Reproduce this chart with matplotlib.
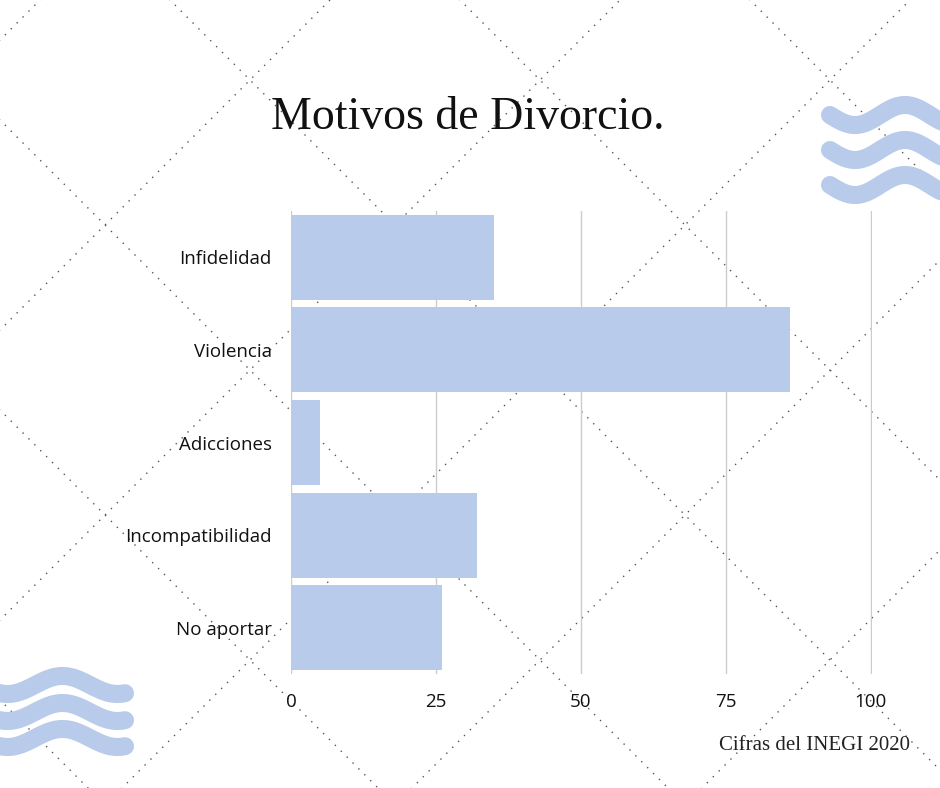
import numpy as np
import matplotlib
matplotlib.use("Agg")
import matplotlib.pyplot as plt

categories = ["Infidelidad", "Violencia", "Adicciones", "Incompatibilidad", "No aportar"]
values = [35, 86, 5, 32, 26]
ticks = [0, 25, 50, 75, 100]
color = "#b9cbeb"

fig = plt.figure(figsize=(9.4, 7.88), dpi=100)
bg = fig.add_axes([0, 0, 1, 1])
bg.set_xlim(0, 940); bg.set_ylim(788, 0); bg.axis("off")
sp = 290
for c in np.arange(-1200, 2200, sp):
    xs = np.array([-100, 1100])
    bg.plot(xs, xs - c + 80, ls=(0, (1, 5)), color="#555555", lw=1)
    bg.plot(xs, -xs + c + 80, ls=(0, (1, 5)), color="#555555", lw=1)

def wave(x0, x1, y, amp, per, phase=0):
    x = np.linspace(x0, x1, 100)
    bg.plot(x, y + amp*np.sin(2*np.pi*(x - x0)/per + phase), color=color, lw=13,
            solid_capstyle="round")
for y in [115, 150, 185]:
    wave(830, 960, y, 10, 100, 0)
for y in [685, 712, 738]:
    wave(-20, 125, y, 9, 110, 0)

bg.text(468, 118, "Motivos de Divorcio.", ha="center", va="center",
        fontsize=33, family="Liberation Serif", color="#111111")
bg.text(910, 745, "Cifras del INEGI 2020", ha="right", va="center",
        fontsize=15, family="Liberation Serif", color="#222222")

ax = fig.add_axes([291/940, 1-674/788, 581/940, 463/788])
ax.patch.set_alpha(0)
y = np.arange(len(categories))
ax.barh(y, values, height=0.92, color=color, zorder=3)
ax.set_ylim(len(categories)-0.5, -0.5)
ax.set_xlim(0, 100.2)
ax.set_xticks(ticks)
ax.set_yticks(y, categories)
ax.grid(axis="x", color="#cccccc", lw=1, zorder=0)
for s in ax.spines.values():
    s.set_visible(False)
ax.tick_params(length=0, labelsize=13.5, colors="#111111", pad=14)
for lbl in ax.get_xticklabels() + ax.get_yticklabels():
    lbl.set_family("Open Sans")
fig.savefig("out.png", dpi=100)
